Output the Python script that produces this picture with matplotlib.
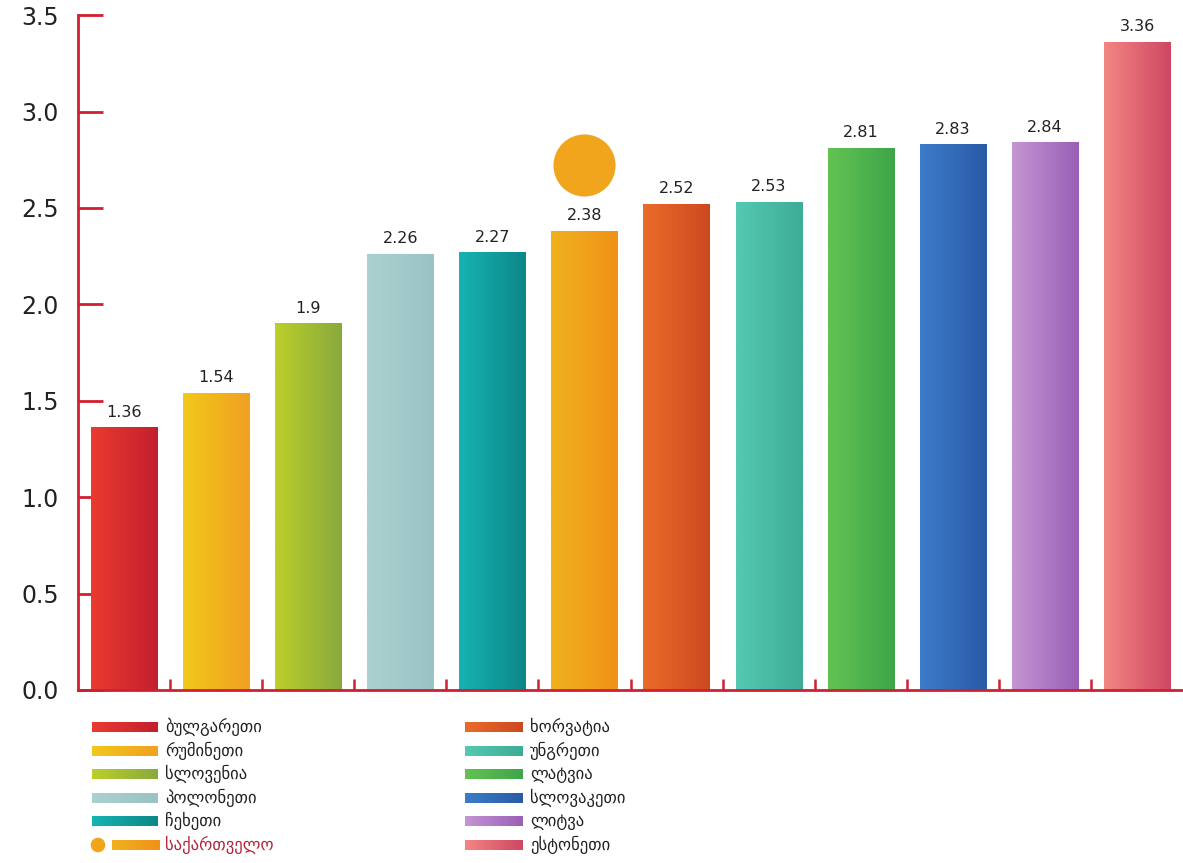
import numpy as np
import matplotlib.pyplot as plt
from matplotlib.colors import LinearSegmentedColormap

plt.rcParams['font.family'] = ['DejaVu Sans', 'Noto Sans']

countries = ["ბულგარეთი", "რუმინეთი", "სლოვენია", "პოლონეთი", "ჩეხეთი", "საქართველო",
             "ხორვატია", "უნგრეთი", "ლატვია", "სლოვაკეთი", "ლიტვა", "ესტონეთი"]
values = [1.36, 1.54, 1.9, 2.26, 2.27, 2.38, 2.52, 2.53, 2.81, 2.83, 2.84, 3.36]
value_labels = ["1.36", "1.54", "1.9", "2.26", "2.27", "2.38", "2.52", "2.53", "2.81", "2.83", "2.84", "3.36"]
# left (light) and right (dark) colour of each bar
colors_left = ["#ea3b30", "#f2c81a", "#bccf2a", "#abd0cf", "#16b3b2", "#f0b21e",
               "#ea6c2a", "#55c9b2", "#62c252", "#3c7cca", "#c495d3", "#f28684"]
colors_right = ["#c41f2e", "#f1a021", "#88aa3c", "#9bc3c4", "#0d8788", "#f19118",
                "#cc4920", "#3eac96", "#3ea64a", "#2a5aa6", "#9a5fb6", "#cf4762"]
highlight = 5  # Georgia

RED = "#d01f32"


def grad_rect(ax, x0, x1, y0, y1, c1, c2, zorder=2):
    cmap = LinearSegmentedColormap.from_list("g", [c1, c2])
    grad = np.linspace(0, 1, 64).reshape(1, -1)
    ax.imshow(grad, cmap=cmap, extent=(x0, x1, y0, y1), aspect="auto",
              interpolation="bilinear", zorder=zorder)


fig = plt.figure(figsize=(11.83, 8.63), dpi=100)
ax = fig.add_axes([0.066, 0.2005, 0.934, 0.782])

width = 0.72
for i, v in enumerate(values):
    grad_rect(ax, i - width / 2, i + width / 2, 0, v, colors_left[i], colors_right[i])
    ax.text(i, v + 0.04, value_labels[i], ha="center", va="bottom", fontsize=11.5,
            color="#222222")

# the marker above Georgia
ax.scatter([highlight], [2.72], s=2000, color="#f0a51c", edgecolor="none", zorder=3)

ax.set_xlim(-0.5, 11.5)
ax.set_ylim(0, 3.5)
ax.set_yticks(np.arange(0, 3.51, 0.5))
ax.set_yticklabels([f"{t:.1f}" for t in np.arange(0, 3.51, 0.5)], fontsize=17, color="#222222")
ax.set_xticks(np.arange(0.5, 11, 1))
ax.set_xticklabels([])
for s in ["top", "right"]:
    ax.spines[s].set_visible(False)
for s in ["left", "bottom"]:
    ax.spines[s].set_color(RED)
    ax.spines[s].set_linewidth(2)
ax.tick_params(axis="y", direction="in", length=18, width=2, color=RED, pad=14)
ax.tick_params(axis="x", direction="in", length=8, width=1.8, color=RED)

# legend drawn in pixel coordinates
lax = fig.add_axes([0, 0, 1, 1], zorder=-1)
lax.axis("off")
row_h = 23.6
for i, name in enumerate(countries):
    col, row = divmod(i, 6)
    y = 727 + row * row_h
    xs = 92 if col == 0 else 465
    txt_color = "#222222"
    if i == highlight:
        lax.scatter([98], [y], s=110, color="#f0a51c", edgecolor="none")
        grad_rect(lax, 112, 160, y + 5, y - 5, colors_left[i], colors_right[i])
        txt_color = "#b0263a"
    else:
        grad_rect(lax, xs, xs + 66 if col == 0 else xs + 58, y + 5, y - 5,
                  colors_left[i], colors_right[i])
    lax.text(xs + 73 if col == 0 else xs + 65, y, name, fontsize=12, va="center",
             ha="left", color=txt_color)
lax.set_xlim(0, 1183)
lax.set_ylim(863, 0)

fig.savefig("out.png", dpi=100)
